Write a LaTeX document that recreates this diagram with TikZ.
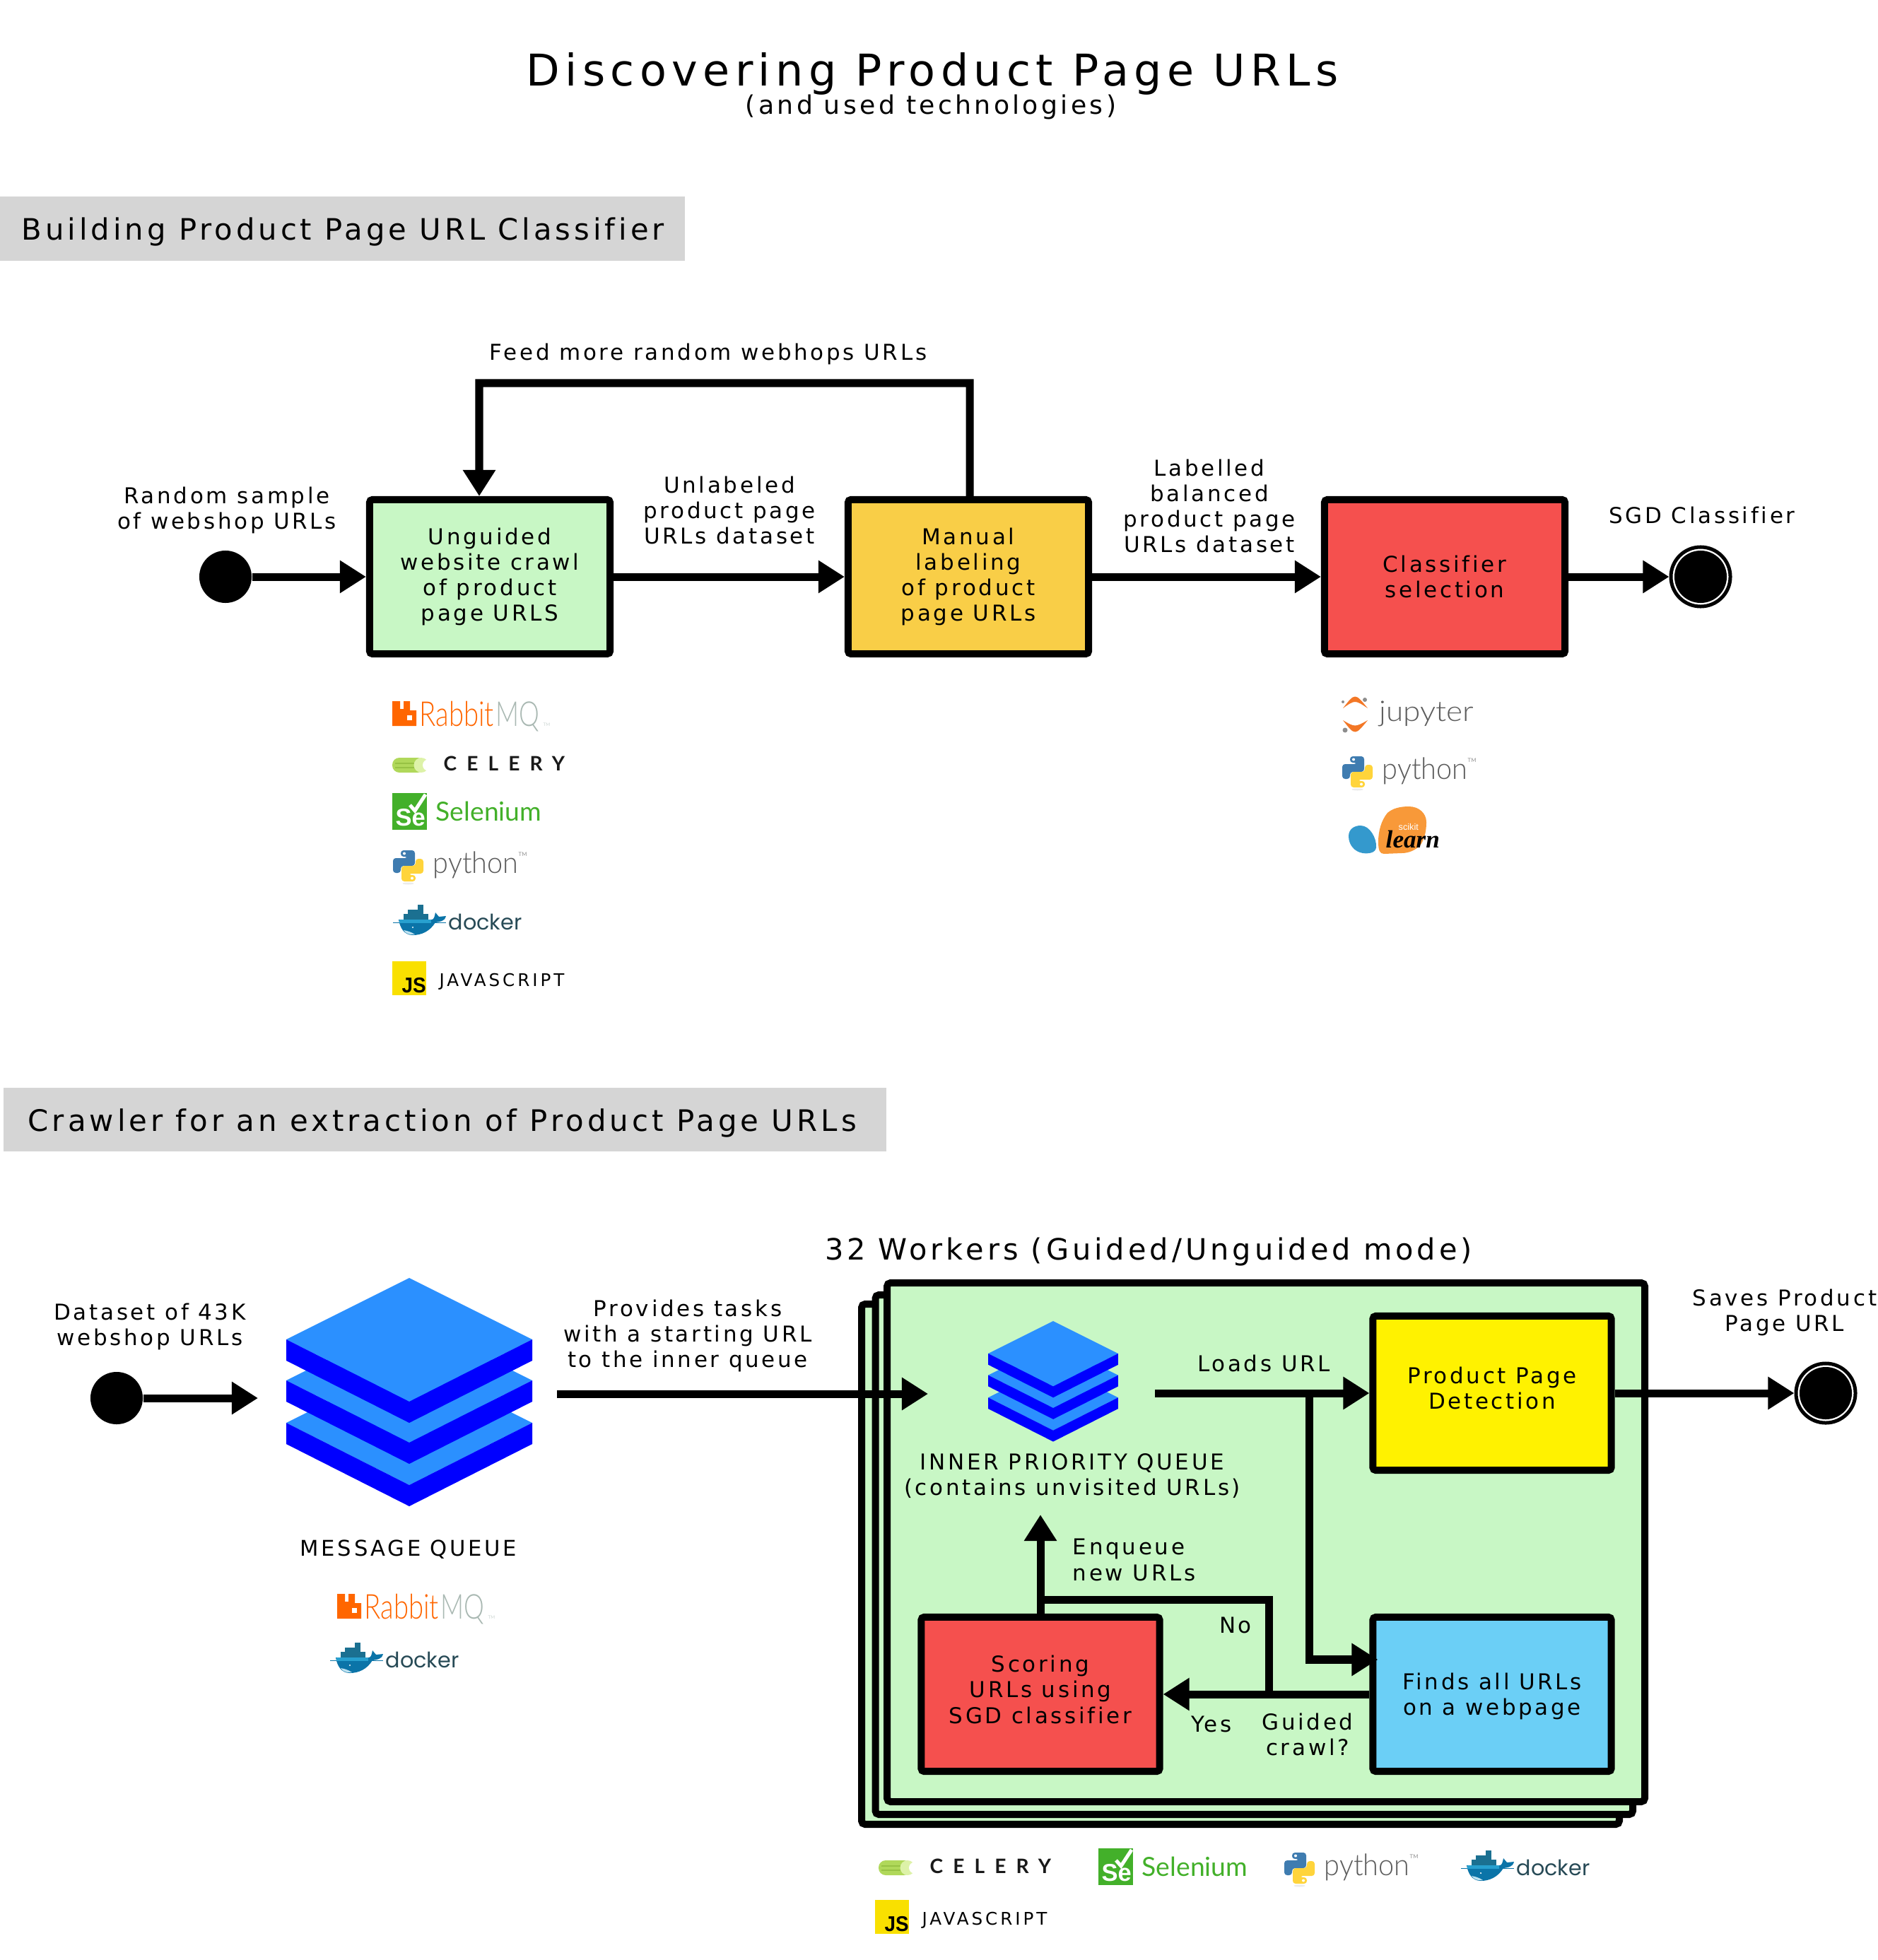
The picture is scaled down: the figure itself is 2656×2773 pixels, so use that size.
\documentclass[tikz,border=0pt]{standalone}
\usepackage{fontspec}
\usetikzlibrary{arrows.meta}
\newfontfamily\lblfont{DejaVu Sans}[LetterSpace=12,Ligatures=NoCommon]
\newfontfamily\thinfont{Lato Light}
\newfontfamily\latofont{Lato}
\newfontfamily\celeryfont{Lato}[LetterSpace=50]
\newfontfamily\jsfont{DejaVu Sans}[LetterSpace=16]
\newfontfamily\dockerfont{Poppins}
\newfontfamily\boldfont{Liberation Sans}
\newfontfamily\learnfont{Liberation Serif}
\definecolor{bannergrey}{HTML}{D5D5D5}
\definecolor{palegreen}{HTML}{C8F7C5}
\definecolor{amber}{HTML}{F9CE47}
\definecolor{redbox}{HTML}{F5504E}
\definecolor{yellowbox}{HTML}{FFF200}
\definecolor{bluebox}{HTML}{6BCFF6}
\definecolor{stacklight}{HTML}{2B90FF}
\definecolor{stackdark}{HTML}{0000FF}
\definecolor{rabbitorange}{HTML}{FF6600}
\definecolor{rabbitgrey}{HTML}{A9B8B2}
\definecolor{celerygreen}{HTML}{B0D85A}
\definecolor{celerystripe}{HTML}{97C244}
\definecolor{celerypale}{HTML}{DDF2A8}
\definecolor{seleniumgreen}{HTML}{43B02A}
\definecolor{pyblue}{HTML}{3F7CB0}
\definecolor{pyyellow}{HTML}{FFD43B}
\definecolor{pygrey}{HTML}{5C5C5C}
\definecolor{whaleblue}{HTML}{0B74A8}
\definecolor{whaletop}{HTML}{27A0CF}
\definecolor{dockertext}{HTML}{274A56}
\definecolor{jupyterorange}{HTML}{F37726}
\definecolor{learnorange}{HTML}{F89939}
\definecolor{learnblue}{HTML}{3499CD}
\definecolor{jsyellow}{HTML}{F9E000}
\tikzset{
  lbl/.style={align=center, inner sep=0pt, font=\lblfont\fontsize{8.8}{10.3}\selectfont},
  procbox/.style={draw=black, line width=.1cm, rounded corners=.04cm, minimum width=3.37cm,
    minimum height=2.18cm, align=center, inner sep=0pt, font=\lblfont\fontsize{8.8}{10.3}\selectfont},
  banner/.style={fill=bannergrey},
  flowline/.style={line width=.11cm, draw=black},
  flowarrow/.style={flowline, -{Triangle[length=.37cm,width=.44cm]}},
  startdot/.style={circle, fill=black, minimum size=.74cm, inner sep=0pt},
  endmark/.style={circle, draw=black, fill=white, line width=.05cm, minimum size=.84cm, inner sep=0pt,
    path picture={\fill[black] (path picture bounding box.center) circle (.37cm);}},
  workerbox/.style={draw=black, fill=palegreen, line width=.1cm, rounded corners=.05cm},
  logotext/.style={anchor=base west, inner sep=0pt},
  % logos, each with its origin at the top left corner of the icon
  rabbitlogo/.pic={
    \fill[rabbitorange] (0,0) -- (11,0) -- (11,11) -- (16,11) -- (16,0) -- (25,0) -- (25,13) -- (34,13)
      -- (34,35) -- (0,35) -- cycle;
    \fill[white] (21,20) rectangle (28,27);
    \node (-rabbit) [logotext, xscale=.79, text=rabbitorange, font=\thinfont\fontsize{13.8}{14}\selectfont] at (38,35) {Rabbit};
    \node (-mq) [logotext, xscale=.75, text=rabbitgrey, font=\thinfont\fontsize{13.8}{14}\selectfont] at (146,35) {MQ};
    \node (-tm) [logotext, text=rabbitgrey!60, font=\latofont\fontsize{1.8}{2}\selectfont] at (213,35) {TM};
  },
  celerylogo/.pic={
    \fill[celerygreen, rounded corners=.1cm] (0,0) rectangle (46,21);
    \fill[celerystripe] (4,7) rectangle (40,9);
    \fill[celerystripe] (4,13) rectangle (40,15);
    \fill[celerypale] (41,10.5) circle (.105cm);
    \fill[white] (51,10.5) circle (.08cm);
    \node (-word) [logotext, text=black!90, font=\celeryfont\bfseries\fontsize{8}{9}\selectfont] at (72,18) {CELERY};
  },
  seleniumlogo/.pic={
    \fill[seleniumgreen] (0,0) rectangle (49,52);
    \draw[white, line width=.05cm] (25,17) -- (32,25) -- (47,2);
    \node (-se) [logotext, text=white, font=\boldfont\bfseries\fontsize{9.8}{10}\selectfont] at (4,46) {Se};
    \node (-word) [logotext, text=seleniumgreen, font=\latofont\fontsize{10.6}{11}\selectfont] at (61,39) {Selenium};
  },
  pythonlogo/.pic={
    \fill[black!8] (21.5,47) ellipse (.08cm and .015cm);
    \fill[pyblue, rounded corners=.04cm] (11,0) -- (31,0) -- (31,22) -- (11,22) -- (11,32) -- (0,32) -- (0,11)
      -- (21,11) -- (21,9) -- (11,9) -- cycle;
    \fill[white] (16,4.5) circle (.02cm);
    \begin{scope}[rotate around={180:(21.5,22)}]
      \fill[pyyellow, rounded corners=.04cm] (11,0) -- (31,0) -- (31,22) -- (11,22) -- (11,32) -- (0,32) -- (0,11)
        -- (21,11) -- (21,9) -- (11,9) -- cycle;
      \fill[white] (16,4.5) circle (.02cm);
    \end{scope}
    \node (-word) [logotext, xscale=.94, text=pygrey, font=\thinfont\fontsize{12}{13}\selectfont] at (56,32) {python};
    \node (-tm) [logotext, text=pygrey!70, font=\latofont\fontsize{2.2}{3}\selectfont] at (177,8) {TM};
  },
  dockerlogo/.pic={
    \fill[whaletop!70!black] (35,0) rectangle (43,7);
    \fill[whaletop!70!black] (21,7) rectangle (43,13);
    \fill[whaletop!70!black] (15,13) rectangle (50,21);
    \draw[whaleblue, line width=.01cm] (0,25) -- (75,25);
    \fill[whaleblue] (8,21) -- (55,21) .. controls (58,21) and (59,16) .. (60,11) -- (65,17) -- (75,16)
      .. controls (73,24) and (66,24) .. (60,25) .. controls (52,38) and (40,43) .. (28,43)
      .. controls (16,43) and (10,33) .. (8,21) -- cycle;
    \fill[whaletop] (9,21) -- (54,21) -- (54,26) -- (9,26) -- cycle;
    \fill[white!70!whaletop] (15,36) .. controls (20,37) and (25,38) .. (31,42) .. controls (24,43) and (18,41) .. (15,36) -- cycle;
    \fill[white] (28,32) circle (.012cm);
    \node (-word) [logotext, text=dockertext, font=\dockerfont\fontsize{8.6}{9}\selectfont] at (78,35) {docker};
  },
  jslogo/.pic={
    \fill[jsyellow] (0,0) rectangle (48,48);
    \node (-js) [logotext, xscale=.92, text=black, font=\boldfont\bfseries\fontsize{8.6}{9}\selectfont] at (13,44) {JS};
    \node (-word) [logotext, text=black, font=\jsfont\fontsize{7}{8}\selectfont] at (66,35) {JAVASCRIPT};
  },
  jupyterlogo/.pic={
    \fill[jupyterorange] (2,15) .. controls (19,-7) .. (37,15) .. controls (19,3) .. (2,15) -- cycle;
    \fill[jupyterorange] (2,32) .. controls (19,54) .. (37,32) .. controls (19,42) .. (2,32) -- cycle;
    \fill[pygrey!70] (33,3) circle (.03cm);
    \fill[pygrey!70] (2,6) circle (.02cm);
    \fill[pygrey!70] (5,46) circle (.035cm);
    \node (-word) [logotext, xscale=1.1, text=pygrey, font=\thinfont\fontsize{11.4}{12}\selectfont] at (53,33) {jupyter};
  },
  sklearnlogo/.pic={
    \fill[learnorange] (85,0) .. controls (100,0) and (110,10) .. (110,22) .. controls (110,38) and (106,48) .. (102,54)
      .. controls (95,62) and (85,66) .. (75,66) -- (50,67) .. controls (44,67) and (42,62) .. (42,50)
      .. controls (42,35) and (46,20) .. (55,9) .. controls (62,3) and (72,0) .. (85,0) -- cycle;
    \fill[learnblue] (0,42) .. controls (0,32) and (8,27) .. (17,27) .. controls (30,27) and (40,45) .. (39,58)
      .. controls (38,66) and (28,67) .. (20,66) .. controls (8,64) and (0,54) .. (0,42) -- cycle;
    \node (-scikit) [logotext, text=white, font=\boldfont\fontsize{3.6}{4}\selectfont] at (70,33) {scikit};
    \node (-learn) [logotext, text=black, font=\learnfont\bfseries\itshape\fontsize{10}{11}\selectfont] at (52,58) {learn};
  },
  queuestack/.pic={
    \foreach \off in {118,58,0} {
      \begin{scope}[shift={(0,\off)}]
        \fill[stacklight] (0,0) -- (174,87) -- (0,175) -- (-174,87) -- cycle;
        \fill[stackdark] (-174,87) -- (0,175) -- (174,87) -- (174,117) -- (0,205) -- (-174,117) -- cycle;
      \end{scope}
    }
  },
}

\begin{document}
\begin{tikzpicture}[x=.01cm, y=-.01cm]
\useasboundingbox (0,0) rectangle (2656,2773);

\node (title) [lbl, font=\lblfont\fontsize{17.6}{18}\selectfont] at (1319,104) {Discovering Product Page URLs};
\node (subtitle) [lbl, font=\lblfont\fontsize{10.3}{12}\selectfont] at (1317,152) {(and used technologies)};

% First part
\fill[banner] (0,278) rectangle (969,369);
\node (buildtitle) [lbl, anchor=west, font=\lblfont\fontsize{11.85}{13}\selectfont] at (30,328) {Building Product Page URL Classifier};

\node (startone) [startdot] at (319,816) {};
\node (unguided) [procbox, fill=palegreen, minimum width=3.4cm] at (693,816) {Unguided\\website crawl\\of product\\page URLS};
\node (manual) [procbox, fill=amber, minimum width=3.4cm] at (1370,816) {Manual\\labeling\\of product\\page URLs};
\node (classifier) [procbox, fill=redbox, minimum width=3.4cm] at (2044,816) {Classifier\\selection};
\node (endone) [endmark] at (2406,816) {};
\coordinate (feedtop) at (1372,542);

\node (randomlbl) [lbl] at (321,722) {Random sample\\of webshop URLs};
\node (feedlbl) [lbl] at (1002,501) {Feed more random webhops URLs};
\node (unlabeledlbl) [lbl] at (1032,722) {Unlabeled\\product page\\URLs dataset};
\node (labelledlbl) [lbl] at (1711,716) {Labelled\\balanced\\product page\\URLs dataset};
\node (sgdlbl) [lbl] at (2408,729) {SGD Classifier};

\draw[flowarrow] (startone) -- (unguided);
\draw[flowarrow] (unguided) -- (manual);
\draw[flowarrow] (manual) -- (classifier);
\draw[flowarrow] (classifier) -- (endone);
\draw[flowarrow] ([xshift=.02cm]manual.north) -- (feedtop) -| ([xshift=-.15cm]unguided.north);

\pic (rabbitone) at (555,992) {rabbitlogo};
\pic (celeryone) at (555,1072) {celerylogo};
\pic (seleniumone) at (555,1122) {seleniumlogo};
\pic (pythonone) at (556,1203) {pythonlogo};
\pic (dockerone) at (556,1280) {dockerlogo};
\pic (jsone) at (555,1360) {jslogo};

\pic (jupyterone) at (1898,987) {jupyterlogo};
\pic (pythontwo) at (1899,1070) {pythonlogo};
\pic (sklearnone) at (1908,1141) {sklearnlogo};

% Second part
\fill[banner] (5,1539) rectangle (1254,1629);
\node (crawltitle) [lbl, anchor=west, font=\lblfont\fontsize{11.9}{13}\selectfont] at (39,1589) {Crawler for an extraction of Product Page URLs};

\node (starttwo) [startdot] at (165,1978) {};
\coordinate (queuein) at (365,1978);
\pic (msgstack) at (579,1808) {queuestack};
\node (msglbl) [lbl, font=\lblfont\fontsize{8.7}{10}\selectfont] at (578,2192) {MESSAGE QUEUE};
\pic (rabbittwo) at (477,2255) {rabbitlogo};
\pic (dockertwo) at (467,2324) {dockerlogo};
\node (datasetlbl) [lbl] at (212,1877) {Dataset of 43K\\webshop URLs};
\node (provideslbl) [lbl] at (973,1890) {Provides tasks\\with a starting URL\\to the inner queue};

\node (workerslbl) [lbl, font=\lblfont\fontsize{11.8}{13}\selectfont] at (1625,1771) {32 Workers (Guided/Unguided mode)};
\draw[workerbox] (1219,1845) rectangle (2291,2581);
\draw[workerbox] (1238.5,1832) rectangle (2310,2567);
\draw[workerbox] (1255,1815) rectangle (2327,2549);

\pic[scale=.528] (innerstack) at (1490,1869) {queuestack};
\node (innerlbl) [lbl] at (1517,2088) {INNER PRIORITY QUEUE\\(contains unvisited URLs)};

\node (detection) [procbox, fill=yellowbox, text depth=.14cm] at (2111,1971) {Product Page\\Detection};
\node (finds) [procbox, fill=bluebox, text depth=0pt] at (2111,2397) {Finds all URLs\\on a webpage};
\node (scoring) [procbox, fill=redbox, text depth=.14cm] at (1472,2397) {Scoring\\URLs using\\SGD classifier};
\node (endtwo) [endmark] at (2583,1971) {};

\coordinate (provstart) at (788,1972);
\coordinate (provend) at (1313,1972);
\coordinate (loadstart) at (1634,1971);
\coordinate (loadjoin) at (1852,1971);
\coordinate (guidedjoin) at (1795,2397);
\coordinate (noturn) at (1472,2263);
\coordinate (enqueuetip) at (1472,2143);

\draw[flowarrow] (starttwo) -- (queuein);
\draw[flowarrow] (provstart) -- (provend);
\draw[flowarrow] (loadstart) -- (detection);
\draw[flowarrow] (detection) -- (endtwo);
\draw[flowarrow, shorten >=-.12cm] (loadjoin) |- ([yshift=.49cm]finds.west);
\draw[flowarrow] (finds) -- (scoring);
\draw[flowline] (guidedjoin) |- (noturn);
\draw[flowarrow] (scoring.north) -- (enqueuetip);

\node (saveslbl) [lbl] at (2525,1857) {Saves Product\\Page URL};
\node (loadslbl) [lbl] at (1788,1929) {Loads URL};
\node (enqueuelbl) [lbl, anchor=west, align=left] at (1517,2207) {Enqueue\\new URLs};
\node (nolbl) [lbl] at (1748,2299) {No};
\node (yeslbl) [lbl] at (1714,2439) {Yes};
\node (guidedlbl) [lbl] at (1850,2454) {Guided\\crawl?};

\pic (celerytwo) at (1243,2632) {celerylogo};
\pic (seleniumtwo) at (1554,2615) {seleniumlogo};
\pic (pythonthree) at (1817,2621) {pythonlogo};
\pic (dockerthree) at (2067,2618) {dockerlogo};
\pic (jstwo) at (1238,2688) {jslogo};
\end{tikzpicture}
\end{document}
